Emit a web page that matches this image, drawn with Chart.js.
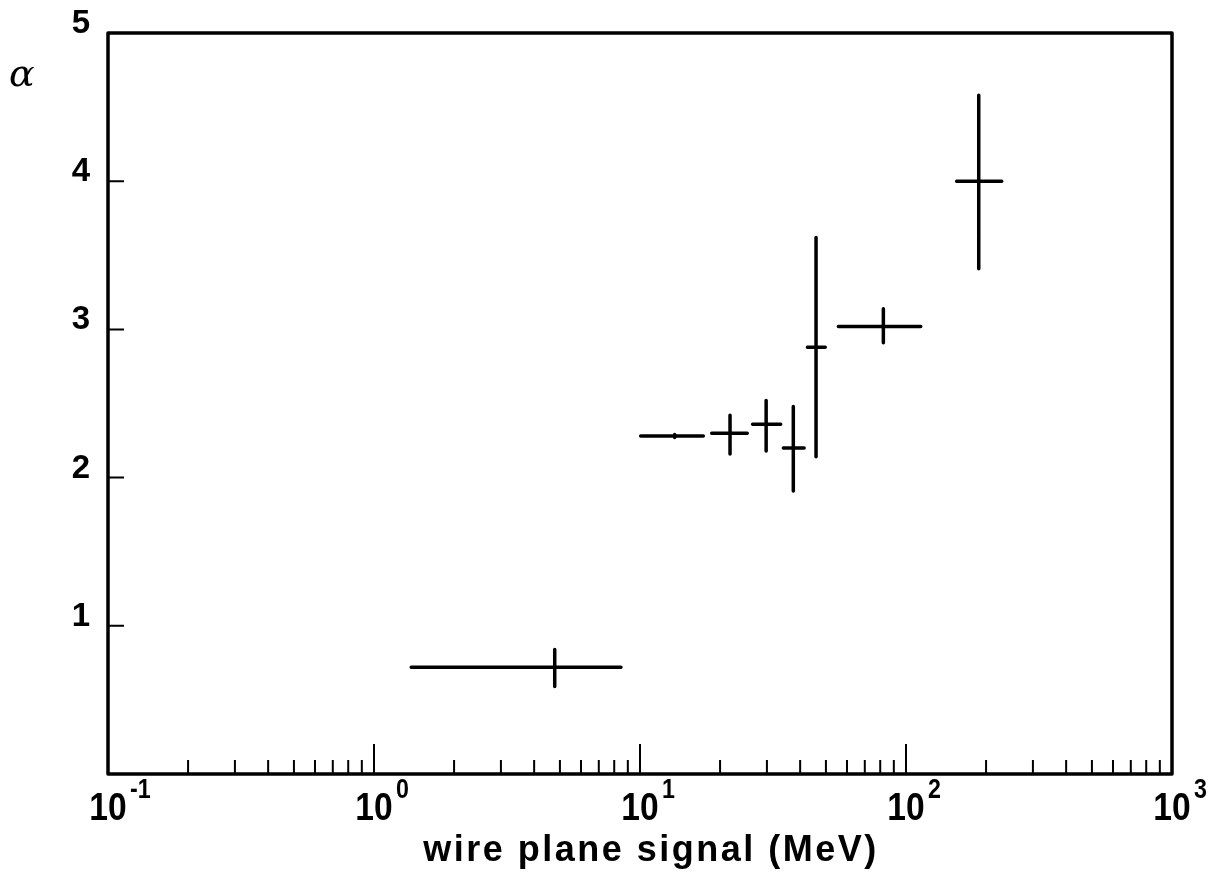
<!DOCTYPE html>
<html>
<head>
<meta charset="utf-8">
<script src="https://cdn.jsdelivr.net/npm/chart.js@4.4.1/dist/chart.umd.min.js"></script>
<style>
  html, body { margin: 0; padding: 0; background: #fff; }
  #wrap { width: 1218px; height: 876px; }
</style>
</head>
<body>
<div id="wrap"><canvas id="alphaChart" width="1218" height="876"></canvas></div>
<script>
// centre of each cross and the ends of its two bars
const signal     = [4.78, 13.5, 21.8, 29.8, 37.7, 45.9, 82.2, 187.7];
const signalLow  = [1.38, 10.06, 18.6, 26.5, 34.6, 42.6, 55.7, 155];
const signalHigh = [8.48, 17.3, 25.3, 33.8, 41.4, 49.7, 113.6, 229];
const alpha      = [0.72, 2.28, 2.30, 2.36, 2.20, 2.88, 3.02, 4.00];
const alphaLow   = [0.59, 2.27, 2.16, 2.18, 1.91, 2.14, 2.91, 3.41];
const alphaHigh  = [0.84, 2.29, 2.42, 2.52, 2.48, 3.62, 3.14, 4.58];

// axis labels
const decades   = [0.1, 1, 10, 100, 1000];
const decadeExp = ['-1', '0', '1', '2', '3'];
const yTicks    = [1, 2, 3, 4, 5];
const xTitle    = 'wire plane signal (MeV)';
const yTitle    = 'α';

// bars as line segments, broken by null points
let hBars = [];
let vBars = [];
for (let i = 0; i < signal.length; i++) {
  hBars.push({ x: signalLow[i], y: alpha[i] }, { x: signalHigh[i], y: alpha[i] }, { x: signal[i], y: null });
  vBars.push({ x: signal[i], y: alphaLow[i] }, { x: signal[i], y: alphaHigh[i] }, { x: signal[i], y: null });
}

const barStyle = {
  showLine: true,
  spanGaps: false,
  borderColor: '#000',
  borderWidth: 3.5,
  borderCapStyle: 'round',
  pointRadius: 0,
  pointHoverRadius: 0,
  tension: 0
};

// box, inward ticks, x labels with exponents, titles
const frame = {
  id: 'frame',
  afterDatasetsDraw(chart) {
    const { ctx, chartArea: a, scales: { x, y } } = chart;
    ctx.save();
    ctx.strokeStyle = '#000';
    ctx.lineWidth = 3.5;
    ctx.lineJoin = 'round';
    ctx.strokeRect(a.left, a.top, a.right - a.left, a.bottom - a.top);

    ctx.lineWidth = 2;
    ctx.beginPath();
    decades.slice(0, -1).forEach((d, k) => {
      for (let m = 1; m < 10; m++) {
        if (k === 0 && m === 1) continue;
        const px = x.getPixelForValue(d * m);
        const len = m === 1 ? 30 : 14;
        ctx.moveTo(px, a.bottom);
        ctx.lineTo(px, a.bottom - len);
      }
    });
    yTicks.forEach(v => {
      if (v >= 5) return;
      const py = y.getPixelForValue(v);
      ctx.moveTo(a.left, py);
      ctx.lineTo(a.left + 16, py);
    });
    ctx.stroke();

    // "10" with a raised exponent, condensed like the original type
    ctx.fillStyle = '#000';
    ctx.textBaseline = 'alphabetic';
    decades.forEach((d, k) => {
      const px = x.getPixelForValue(d);
      ctx.save();
      ctx.translate(px, a.bottom + 46);
      ctx.scale(0.86, 1);
      ctx.font = 'bold 39px "Liberation Sans", Arial, sans-serif';
      ctx.textAlign = 'center';
      ctx.fillText('10', 0, 0);
      const w = ctx.measureText('10').width;
      ctx.font = 'bold 27px "Liberation Sans", Arial, sans-serif';
      ctx.textAlign = 'left';
      ctx.fillText(decadeExp[k], w / 2 + 4, -22);
      ctx.restore();
    });

    ctx.font = 'bold 36px "Liberation Sans", Arial, sans-serif';
    ctx.letterSpacing = '2.5px';
    ctx.textAlign = 'center';
    ctx.fillText(xTitle, (a.left + a.right) / 2 + 11, 861);
    ctx.letterSpacing = '0px';

    ctx.font = 'italic 38px "DejaVu Serif", "Liberation Serif", serif';
    ctx.textAlign = 'left';
    ctx.fillText(yTitle, 9, 86);
    ctx.restore();
  }
};

const chart = new Chart(document.getElementById('alphaChart'), {
  type: 'scatter',
  data: {
    datasets: [
      { label: 'signal range', data: hBars, ...barStyle },
      { label: 'alpha range', data: vBars, ...barStyle }
    ]
  },
  options: {
    responsive: false,
    animation: false,
    events: [],
    layout: { padding: { top: 33, right: 46, left: 0, bottom: 0 } },
    plugins: { legend: { display: false }, tooltip: { enabled: false } },
    scales: {
      x: {
        type: 'logarithmic',
        min: 0.1,
        max: 1000,
        grid: { display: false },
        border: { display: false },
        ticks: { display: false },
        afterFit: s => { s.height = 102; }
      },
      y: {
        min: 0,
        max: 5,
        grid: { display: false, drawTicks: false },
        border: { display: false },
        ticks: {
          stepSize: 1,
          padding: 18,
          labelOffset: -9,
          color: '#000',
          font: { family: '"Liberation Sans", Arial, sans-serif', size: 33, weight: 'bold' },
          callback: v => (yTicks.includes(v) ? String(v) : '')
        },
        afterFit: s => {
          s.width = 108;
          s.paddingTop = 0;
          s.paddingBottom = 0;
        }
      }
    }
  },
  plugins: [frame]
});
</script>
</body>
</html>
